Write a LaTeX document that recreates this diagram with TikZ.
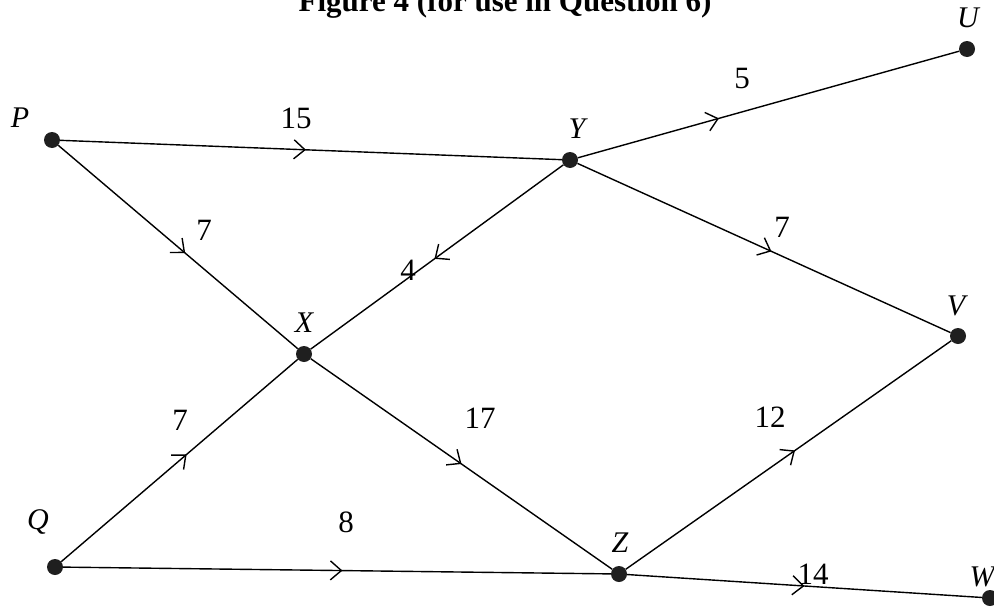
\documentclass[tikz,border=0pt]{standalone}
\usepackage{fontspec}
\setmainfont{Liberation Serif}
\usetikzlibrary{arrows.meta,decorations.markings}
\begin{document}
\begin{tikzpicture}[x=1pt,y=-1pt,
  vtx/.style={circle,fill=black!88,inner sep=0pt,minimum size=16pt},
  vlab/.style={font=\fontsize{30}{34}\selectfont\itshape,inner sep=0pt},
  wlab/.style={font=\fontsize{31}{34}\selectfont,inner sep=0pt},
  edge/.style={line width=1.4pt,postaction={decorate},decoration={markings,
    mark=at position #1 with {\arrow{Straight Barb[length=11pt,width=19pt,line width=1.4pt]}}}},
  edge/.default=0.5]
\useasboundingbox (0,0) rectangle (994,616);
\node[font=\fontsize{31}{34}\selectfont\bfseries,anchor=base,inner sep=0pt] (title) at (505,11) {Figure 4 (for use in Question 6)};
\node[vtx] (P) at (52,140) {};
\node[vtx] (Y) at (570,160) {};
\node[vtx] (U) at (967,49) {};
\node[vtx] (X) at (304,354) {};
\node[vtx] (V) at (958,336) {};
\node[vtx] (Q) at (55,567) {};
\node[vtx] (Z) at (619,574) {};
\node[vtx] (W) at (990,598) {};
\node[vlab] (lP) at (20,118) {P};
\node[vlab] (lY) at (577,129) {Y};
\node[vlab] (lU) at (968,18) {U};
\node[vlab] (lX) at (304,323) {X};
\node[vlab] (lV) at (956,306) {V};
\node[vlab] (lQ) at (38,522) {Q};
\node[vlab] (lZ) at (620,543) {Z};
\node[vlab] (lW) at (982,577) {W};
\draw[edge=0.49] (P) -- (Y);
\draw[edge=0.37] (Y) -- (U);
\draw[edge=0.53] (P) -- (X);
\draw[edge=0.51] (Y) -- (X);
\draw[edge=0.52] (Y) -- (V);
\draw[edge=0.53] (Q) -- (X);
\draw[edge=0.50] (X) -- (Z);
\draw[edge=0.52] (Z) -- (V);
\draw[edge=0.51] (Q) -- (Z);
\draw[edge=0.50] (Z) -- (W);
\node[wlab] (e1) at (296,118) {15};
\node[wlab] (e2) at (742,79) {5};
\node[wlab] (e3) at (204,230) {7};
\node[wlab] (e4) at (408,270) {4};
\node[wlab] (e5) at (782,227) {7};
\node[wlab] (e6) at (180,420) {7};
\node[wlab] (e7) at (480,418) {17};
\node[wlab] (e8) at (770,417) {12};
\node[wlab] (e9) at (346,522) {8};
\node[wlab] (e10) at (813,574) {14};
\end{tikzpicture}
\end{document}
